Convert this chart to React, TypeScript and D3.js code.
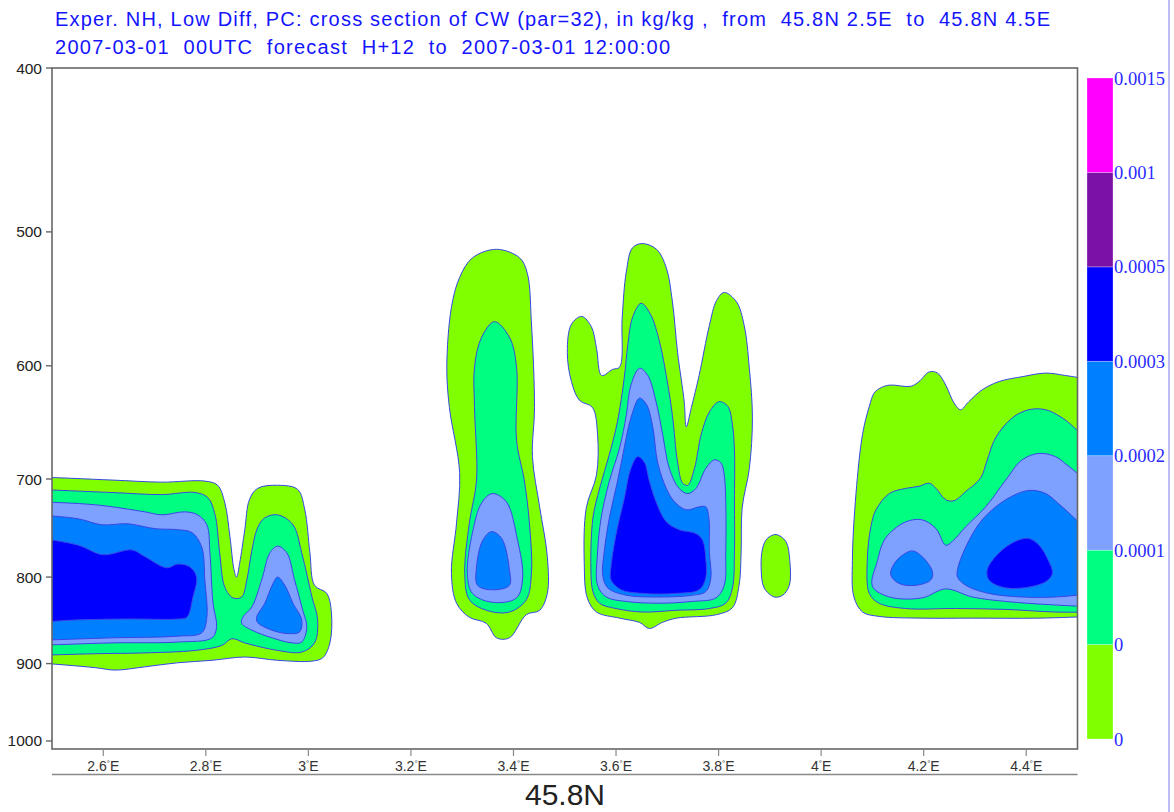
import React from "react";
import * as d3 from "d3";

const W = 1174;
const H = 812;

const titleLine1 =
  "Exper. NH, Low Diff, PC: cross section of CW (par=32), in kg/kg ,  from  45.8N 2.5E  to  45.8N 4.5E";
const titleLine2 = "2007-03-01  00UTC  forecast  H+12  to  2007-03-01 12:00:00";
const sectionLabel = "45.8N";

const lonDomain: [number, number] = [2.5, 4.5];
const presDomain: [number, number] = [400, 1011];
const xTicks = [2.6, 2.8, 3.0, 3.2, 3.4, 3.6, 3.8, 4.0, 4.2, 4.4];
const xTickLabels = ["2.6", "2.8", "3", "3.2", "3.4", "3.6", "3.8", "4", "4.2", "4.4"];
const yTicks = [400, 500, 600, 700, 800, 900, 1000];

// contour levels (kg/kg) — legend boundaries from bottom to top
const legendLabels = ["0", "0", "0.0001", "0.0002", "0.0003", "0.0005", "0.001", "0.0015"];
const levelColors = ["#80ff00", "#00ff80", "#7ea0ff", "#0080ff", "#0000ff", "#7b12a8", "#ff00ff"];

type P = [number, number]; // [longitude °E, pressure hPa]

// ---- West complex (2.5E – 3.05E); rings touching the left border continue just outside it
const westLime: P[] = [
  [2.4, 698], [2.46, 698], [2.617, 701], [2.714, 703], [2.798, 702], [2.823, 706], [2.837, 723], [2.847, 757],
  [2.855, 792], [2.86, 800], [2.866, 785], [2.876, 750], [2.885, 720], [2.901, 709], [2.94, 706],
  [2.979, 710], [2.993, 730], [3.003, 774], [3.012, 809], [3.036, 818], [3.045, 840], [3.042, 875],
  [3.028, 893], [3.007, 897], [2.94, 896], [2.876, 892], [2.812, 896], [2.745, 899], [2.681, 904],
  [2.623, 908], [2.584, 905], [2.46, 899], [2.4, 899],
];
const westGreen: P[] = [
  [2.4, 710], [2.46, 710], [2.617, 713], [2.714, 715], [2.779, 713], [2.804, 718], [2.818, 735], [2.827, 774],
  [2.837, 811], [2.853, 823], [2.87, 822], [2.88, 803], [2.89, 771], [2.901, 748], [2.915, 738],
  [2.94, 735], [2.97, 745], [2.987, 774], [3.007, 822], [3.018, 848], [3.012, 875], [2.987, 886],
  [2.94, 884], [2.876, 875], [2.851, 870], [2.831, 878], [2.779, 884], [2.681, 887], [2.584, 888],
  [2.46, 890], [2.4, 890],
];
const westLightBlue: P[] = [
  [2.4, 722], [2.46, 722], [2.584, 725], [2.681, 732], [2.714, 735], [2.759, 732], [2.784, 735], [2.802, 745],
  [2.808, 774], [2.814, 829], [2.821, 856], [2.812, 869], [2.745, 874], [2.617, 875], [2.46, 878], [2.4, 878],
];
const westMidBlue: P[] = [
  [2.4, 735], [2.46, 735], [2.551, 739], [2.597, 745], [2.648, 744], [2.701, 749], [2.745, 750], [2.773, 753],
  [2.792, 768], [2.798, 803], [2.802, 845], [2.792, 863], [2.745, 867], [2.617, 869], [2.46, 872], [2.4, 872],
];
const westBlue: P[] = [
  [2.4, 758], [2.46, 758], [2.551, 766], [2.599, 776], [2.656, 771], [2.681, 778], [2.724, 790], [2.745, 786],
  [2.769, 789], [2.782, 800], [2.775, 822], [2.763, 845], [2.745, 847], [2.648, 847], [2.551, 848],
  [2.46, 851], [2.4, 851],
];
const lobeLightBlue: P[] = [
  [2.94, 767], [2.958, 774], [2.973, 803], [2.989, 837], [2.997, 856], [2.987, 874], [2.968, 875],
  [2.929, 869], [2.89, 860], [2.87, 852], [2.872, 845], [2.89, 833], [2.909, 803], [2.925, 774],
];
const lobeMidBlue: P[] = [
  [2.94, 800], [2.954, 809], [2.97, 829], [2.987, 848], [2.983, 862], [2.96, 864], [2.929, 860],
  [2.901, 851], [2.899, 845], [2.915, 829], [2.931, 807],
];

// ---- Column at 3.4E
const columnLime: P[] = [
  [3.367, 512], [3.412, 518], [3.427, 529], [3.435, 566], [3.441, 635], [3.437, 679], [3.451, 727],
  [3.466, 778], [3.466, 818], [3.451, 837], [3.425, 842], [3.392, 869], [3.367, 869], [3.347, 852],
  [3.314, 845], [3.289, 829], [3.279, 796], [3.289, 743], [3.295, 694], [3.275, 635], [3.27, 601],
  [3.279, 554], [3.295, 532], [3.32, 518],
];
const columnGreen: P[] = [
  [3.363, 565], [3.392, 577], [3.406, 601], [3.406, 664], [3.421, 701], [3.431, 743], [3.435, 796],
  [3.425, 825], [3.392, 839], [3.347, 837], [3.314, 825], [3.305, 796], [3.314, 743], [3.328, 701],
  [3.324, 635], [3.324, 601], [3.338, 577],
];
const columnLightBlue: P[] = [
  [3.359, 714], [3.386, 722], [3.408, 761], [3.418, 800], [3.406, 823], [3.359, 828], [3.32, 818],
  [3.31, 796], [3.32, 753], [3.338, 723],
];
const columnMidBlue: P[] = [
  [3.357, 752], [3.377, 759], [3.392, 792], [3.392, 809], [3.359, 814], [3.33, 809], [3.328, 789],
  [3.34, 761],
];

// ---- Central complex (3.5E – 3.87E)
const centralLime: P[] = [
  [3.533, 561], [3.552, 569], [3.562, 586], [3.572, 608], [3.593, 603], [3.607, 601], [3.612, 562],
  [3.62, 528], [3.632, 511], [3.651, 508], [3.679, 512], [3.698, 525], [3.71, 550], [3.72, 589],
  [3.733, 630], [3.737, 652], [3.747, 635], [3.762, 608], [3.782, 568], [3.796, 549], [3.811, 543],
  [3.835, 550], [3.85, 568], [3.86, 602], [3.866, 644], [3.86, 690], [3.846, 728], [3.844, 773],
  [3.84, 809], [3.827, 834], [3.796, 842], [3.718, 846], [3.69, 851], [3.665, 858], [3.646, 851],
  [3.607, 846], [3.562, 839], [3.544, 823], [3.538, 784], [3.542, 728], [3.562, 696], [3.564, 659],
  [3.554, 635], [3.529, 629], [3.513, 613], [3.505, 589], [3.513, 567],
];
const centralGreen: P[] = [
  [3.649, 551], [3.668, 560], [3.685, 581], [3.698, 608], [3.71, 642], [3.72, 684], [3.73, 704],
  [3.74, 706], [3.753, 690], [3.766, 659], [3.782, 639], [3.801, 630], [3.818, 634], [3.827, 650],
  [3.831, 674], [3.831, 722], [3.831, 773], [3.827, 812], [3.814, 829], [3.782, 835], [3.717, 837],
  [3.652, 839], [3.6, 835], [3.568, 829], [3.555, 816], [3.551, 790], [3.555, 738], [3.568, 709],
  [3.587, 677], [3.603, 647], [3.616, 610], [3.623, 583], [3.632, 562],
];
const centralLightBlue: P[] = [
  [3.646, 602], [3.662, 608], [3.678, 630], [3.691, 659], [3.704, 690], [3.723, 709], [3.74, 714],
  [3.756, 709], [3.775, 690], [3.792, 682], [3.805, 685], [3.811, 696], [3.814, 722], [3.814, 773],
  [3.811, 809], [3.795, 823], [3.749, 827], [3.684, 829], [3.62, 827], [3.581, 822], [3.564, 809],
  [3.564, 773], [3.571, 738], [3.587, 702], [3.607, 671], [3.62, 642], [3.629, 616],
];
const centralMidBlue: P[] = [
  [3.646, 627], [3.66, 633], [3.672, 653], [3.681, 684], [3.698, 709], [3.714, 722], [3.737, 730],
  [3.762, 727], [3.775, 727], [3.781, 738], [3.782, 773], [3.785, 801], [3.775, 816], [3.749, 820],
  [3.684, 822], [3.62, 820], [3.584, 812], [3.574, 798], [3.577, 773], [3.587, 738], [3.603, 702],
  [3.616, 671], [3.629, 644],
];
const centralBlue: P[] = [
  [3.642, 679], [3.655, 684], [3.665, 702], [3.678, 722], [3.698, 742], [3.723, 750], [3.756, 754],
  [3.769, 761], [3.775, 780], [3.775, 801], [3.762, 814], [3.717, 818], [3.652, 818], [3.61, 814],
  [3.59, 803], [3.59, 790], [3.6, 755], [3.616, 719], [3.629, 690],
];

// ---- Small cell at 3.9E
const smallCellLime: P[] = [
  [3.912, 755], [3.931, 762], [3.939, 783], [3.938, 809], [3.925, 820], [3.909, 822], [3.889, 812],
  [3.883, 790], [3.886, 769], [3.895, 759],
];

// ---- East complex (4.06E – 4.5E); rings touching the right border continue just outside it
const eastLime: P[] = [
  [4.113, 619], [4.133, 616], [4.175, 617], [4.191, 613], [4.211, 605], [4.227, 606], [4.243, 616],
  [4.259, 631], [4.272, 637], [4.288, 630], [4.314, 620], [4.347, 613], [4.392, 609], [4.438, 606],
  [4.477, 608], [4.54, 612], [4.6, 612], [4.6, 844], [4.54, 844], [4.425, 846], [4.295, 846],
  [4.197, 846], [4.113, 844], [4.081, 839], [4.064, 822], [4.061, 782], [4.068, 714], [4.081, 658],
  [4.094, 634], [4.103, 623],
];
const eastGreen: P[] = [
  [4.107, 730], [4.133, 714], [4.165, 709], [4.191, 707], [4.211, 704], [4.224, 709], [4.243, 720],
  [4.259, 721], [4.282, 712], [4.311, 699], [4.324, 682], [4.34, 662], [4.373, 644], [4.405, 637],
  [4.438, 637], [4.47, 644], [4.54, 668], [4.6, 668], [4.6, 839], [4.54, 839], [4.457, 839],
  [4.36, 836], [4.262, 835], [4.165, 835], [4.113, 829], [4.094, 818], [4.09, 782], [4.097, 747],
];
const eastLightBlue: P[] = [
  [4.133, 754], [4.165, 742], [4.197, 740], [4.224, 749], [4.243, 766], [4.256, 762], [4.282, 747],
  [4.321, 727], [4.36, 701], [4.392, 682], [4.425, 676], [4.457, 679], [4.483, 688], [4.54, 708],
  [4.6, 708], [4.6, 833], [4.54, 833], [4.457, 831], [4.36, 827], [4.295, 822], [4.243, 813],
  [4.197, 823], [4.133, 822], [4.1, 810], [4.11, 782], [4.12, 764],
];
const eastMidBlueWest: P[] = [
  [4.139, 789], [4.155, 778], [4.178, 772], [4.197, 778], [4.217, 794], [4.214, 803], [4.185, 809],
  [4.152, 807], [4.136, 798],
];
const eastMidBlueEast: P[] = [
  [4.266, 792], [4.282, 768], [4.314, 740], [4.36, 720], [4.405, 711], [4.438, 714], [4.47, 727],
  [4.54, 756], [4.6, 756], [4.6, 818], [4.54, 818], [4.457, 822], [4.392, 822], [4.327, 818],
  [4.282, 809], [4.266, 800],
];
const eastBlue: P[] = [
  [4.324, 792], [4.347, 774], [4.379, 762], [4.405, 759], [4.425, 766], [4.444, 783], [4.451, 796],
  [4.438, 805], [4.392, 812], [4.353, 811], [4.327, 803],
];

const contourRings: { level: number; points: P[] }[] = [
  { level: 0, points: westLime },
  { level: 0, points: columnLime },
  { level: 0, points: centralLime },
  { level: 0, points: smallCellLime },
  { level: 0, points: eastLime },
  { level: 1, points: westGreen },
  { level: 1, points: columnGreen },
  { level: 1, points: centralGreen },
  { level: 1, points: eastGreen },
  { level: 2, points: westLightBlue },
  { level: 2, points: lobeLightBlue },
  { level: 2, points: columnLightBlue },
  { level: 2, points: centralLightBlue },
  { level: 2, points: eastLightBlue },
  { level: 3, points: westMidBlue },
  { level: 3, points: lobeMidBlue },
  { level: 3, points: columnMidBlue },
  { level: 3, points: centralMidBlue },
  { level: 3, points: eastMidBlueWest },
  { level: 3, points: eastMidBlueEast },
  { level: 4, points: westBlue },
  { level: 4, points: centralBlue },
  { level: 4, points: eastBlue },
];

const SANS = "'Liberation Sans', Arial, Helvetica, sans-serif";
const SERIF = "'Liberation Serif', 'Times New Roman', serif";

export default function App() {
  const plot = { left: 52, right: 1077.5, top: 68, bottom: 749 };
  const x = d3.scaleLinear().domain(lonDomain).range([plot.left, plot.right]);
  const y = d3.scaleLog().domain(presDomain).range([plot.top, plot.bottom]);

  const ring = d3
    .line<P>()
    .x((d) => x(d[0]))
    .y((d) => y(d[1]))
    .curve(d3.curveCatmullRomClosed.alpha(0.5));

  const legend = { x: 1087, w: 26, top: 78, bottom: 739 };
  const ly = d3.scaleLinear().domain([0, levelColors.length]).range([legend.bottom, legend.top]);

  const sorted = [...contourRings].sort((a, b) => a.level - b.level);

  return (
    <svg
      width={W}
      height={H}
      viewBox={`0 0 ${W} ${H}`}
      style={{ position: "absolute", left: 0, top: 0, background: "#fff" }}
    >
      <defs>
        <clipPath id="plotClip">
          <rect x={plot.left} y={plot.top} width={plot.right - plot.left} height={plot.bottom - plot.top} />
        </clipPath>
      </defs>
      <rect x={0} y={0} width={W} height={H} fill="#fff" />

      {/* title */}
      <text
        x={55}
        y={26}
        fill="#1414ff"
        fontFamily={SANS}
        fontSize={20}
        textLength={995}
        lengthAdjust="spacing"
        style={{ whiteSpace: "pre" }}
      >
        {titleLine1}
      </text>
      <text
        x={55}
        y={54}
        fill="#1414ff"
        fontFamily={SANS}
        fontSize={20}
        textLength={615}
        lengthAdjust="spacing"
        style={{ whiteSpace: "pre" }}
      >
        {titleLine2}
      </text>

      {/* contour fills */}
      <g clipPath="url(#plotClip)">
        {sorted.map((r, i) => (
          <path
            key={i}
            d={ring(r.points) || ""}
            fill={levelColors[r.level]}
            stroke="#3a46e6"
            strokeWidth={1}
            strokeLinejoin="round"
          />
        ))}
      </g>

      {/* frame */}
      <rect
        x={plot.left}
        y={plot.top}
        width={plot.right - plot.left}
        height={plot.bottom - plot.top}
        fill="none"
        stroke="#666"
        strokeWidth={1.6}
      />

      {/* y axis */}
      {yTicks.map((t) => (
        <g key={t}>
          <line x1={plot.left - 6} x2={plot.left} y1={y(t)} y2={y(t)} stroke="#666" strokeWidth={1.4} />
          <text
            x={plot.left - 10}
            y={y(t) + 5.5}
            textAnchor="end"
            fontFamily={SANS}
            fontSize={15.5}
            fill="#222"
          >
            {t}
          </text>
        </g>
      ))}

      {/* x axis */}
      {xTicks.map((t, i) => (
        <g key={t}>
          <line x1={x(t)} x2={x(t)} y1={plot.bottom} y2={plot.bottom + 7} stroke="#888" strokeWidth={1.2} />
          <text x={x(t)} y={771} textAnchor="middle" fontFamily={SANS} fontSize={14} fill="#333">
            {xTickLabels[i]}
            <tspan fontSize={8} dy={-5}>°</tspan>
            <tspan dy={5}>E</tspan>
          </text>
        </g>
      ))}
      <line x1={plot.left} x2={plot.right} y1={774.5} y2={774.5} stroke="#888" strokeWidth={1.4} />
      <text x={565} y={805} textAnchor="middle" fontFamily={SANS} fontSize={30} fill="#222">
        {sectionLabel}
      </text>

      {/* legend */}
      {levelColors.map((c, i) => (
        <rect
          key={c}
          x={legend.x}
          y={ly(i + 1)}
          width={legend.w}
          height={ly(i) - ly(i + 1)}
          fill={c}
          stroke="#ffffff"
          strokeOpacity={0.35}
          strokeWidth={0.8}
        />
      ))}
      {legendLabels.map((l, i) => (
        <text key={i} x={1114} y={ly(i) + 6.5} fontFamily={SERIF} fontSize={18.5} fill="#2a2aff">
          {l}
        </text>
      ))}

      {/* right page edge */}
      <line x1={1169} x2={1169} y1={0} y2={H} stroke="#bcbcf6" strokeWidth={2} />
    </svg>
  );
}
